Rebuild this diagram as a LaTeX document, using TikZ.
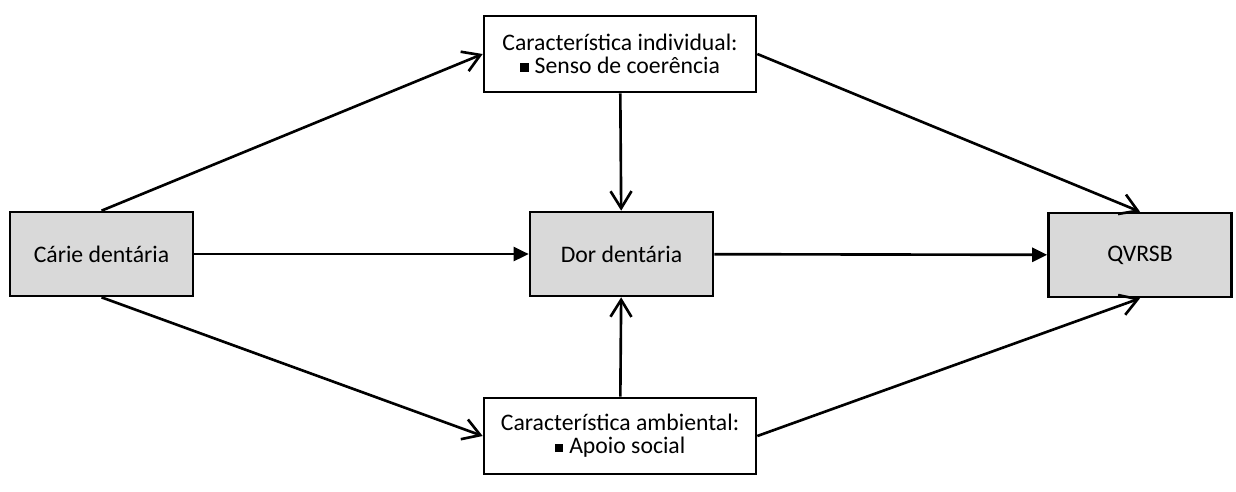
\documentclass[tikz,border=0pt]{standalone}
\usepackage{fontspec}
\setmainfont{Carlito}
\usetikzlibrary{arrows.meta, positioning}

\begin{document}
\begin{tikzpicture}[
    x=0.02cm, y=-0.02cm,
    box/.style={draw, line width=1.5pt, align=center, inner sep=0pt,
                font=\fontsize{13.5}{13}\selectfont},
    var/.style={box, fill=black!15, minimum width=183*0.02cm, minimum height=84*0.02cm},
    char/.style={box, fill=white, minimum width=272*0.02cm, minimum height=76*0.02cm},
    arr/.style={-{Straight Barb[length=3.4mm, width=4.2mm, line width=1.5pt]}, line width=1.5pt},
    farr/.style={-{Triangle[length=3mm, width=2.8mm]}, line width=1.5pt},
]
\useasboundingbox (0,0) rectangle (1236,491);
\newcommand{\sq}{\rule[1pt]{4.8pt}{4.8pt}\hspace{3.5pt}}
% ---- Main chain ----
\node[var]  (carie) at (101.5, 254) {Cárie dentária};
\node[var]  (dor)   at (621.5, 254) {Dor dentária};
\node[var]  (qv)    at (1140, 255)  {QVRSB};
% ---- Characteristics ----
\node[char] (indiv) at (620, 54)  {Característica individual:\\\sq Senso de coerência};
\node[char] (amb)   at (620, 436) {Característica ambiental:\\\sq Apoio social};

% ---- Arrows ----
\draw[farr] (carie) -- (dor);
\draw[farr] (dor) -- (qv);
\draw[arr] (carie.north) -- (indiv.west);
\draw[arr] (carie.south) -- (amb.west);
\draw[arr] (indiv.east) -- (qv.north);
\draw[arr] (amb.east) -- (qv.south);
\draw[arr] (indiv) -- (dor);
\draw[arr] (amb) -- (dor);
\end{tikzpicture}
\end{document}
